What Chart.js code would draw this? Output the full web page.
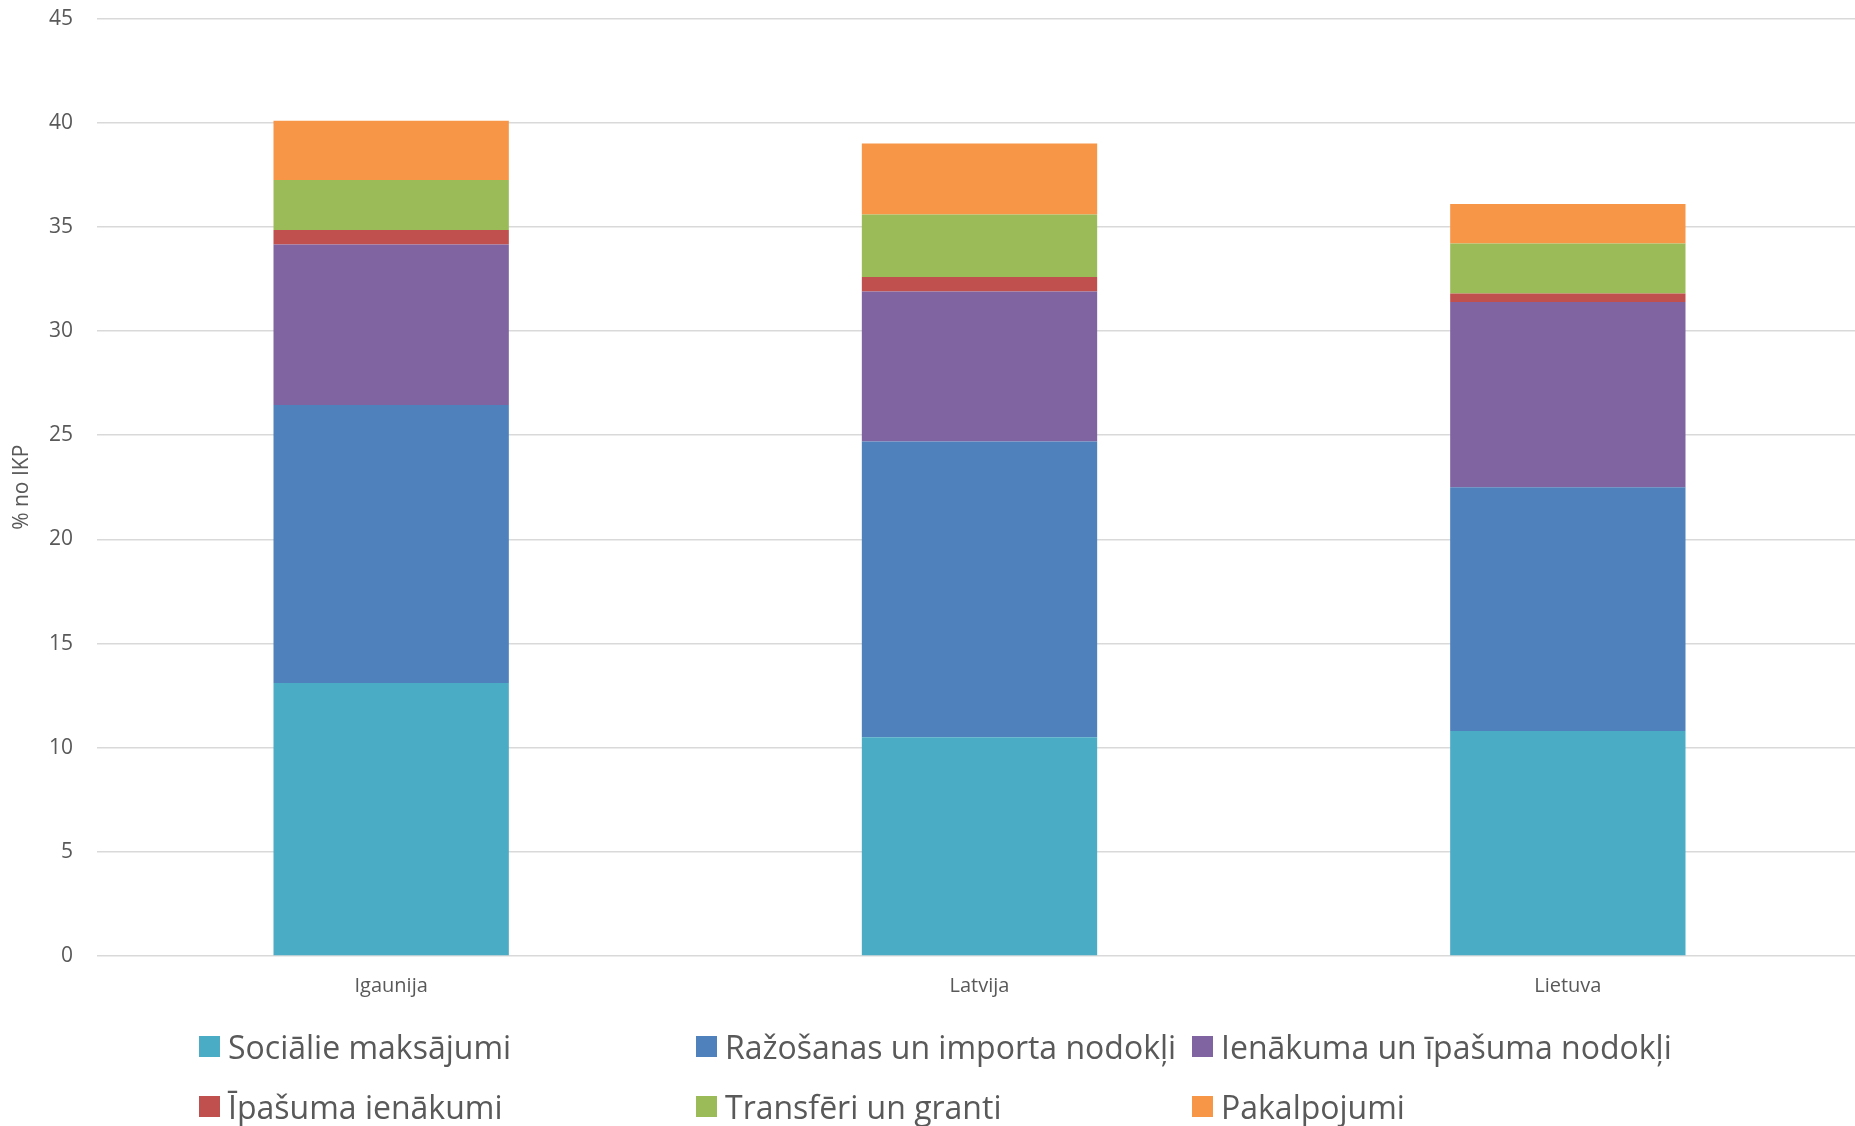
<!DOCTYPE html>
<html>
<head>
<meta charset="utf-8">
<script src="https://cdn.jsdelivr.net/npm/chart.js@4/dist/chart.umd.min.js"></script>
<style>
  html, body { margin: 0; padding: 0; background: #fff; overflow: hidden; }
  #wrap { position: relative; width: 1855px; height: 1126px; overflow: hidden; font-family: "Open Sans", sans-serif; }
  #box { position: absolute; left: 0; top: -18px; width: 1862px; height: 1026px; }
  #legend { position: absolute; left: 0; top: 0; width: 1855px; height: 1126px; pointer-events: none; }
  .item { position: absolute; display: flex; align-items: center; height: 44px; font-size: 32px; color: #595959; white-space: nowrap; }
  .item span.sw { display: inline-block; width: 21px; height: 21px; margin-right: 8px; }
</style>
</head>
<body>
<div id="wrap">
  <div id="box"><canvas id="chart"></canvas></div>
  <div id="legend"></div>
</div>
<script>
const countries = ["Igaunija", "Latvija", "Lietuva"];

const seriesNames = [
  "Sociālie maksājumi",
  "Ražošanas un importa nodokļi",
  "Ienākuma un īpašuma nodokļi",
  "Īpašuma ienākumi",
  "Transfēri un granti",
  "Pakalpojumi"
];

// % of GDP, one entry per country
const socialPayments = [13.1, 10.5, 10.8];
const productionTaxes = [13.35, 14.2, 11.7];
const incomeTaxes = [7.7, 7.2, 8.9];
const propertyIncome = [0.7, 0.7, 0.4];
const transfers = [2.4, 3.0, 2.4];
const services = [2.85, 3.4, 1.9];

const yTicks = [0, 5, 10, 15, 20, 25, 30, 35, 40, 45];

const colors = ["#4BACC6", "#4F81BD", "#8064A2", "#C0504D", "#9BBB59", "#F79646"];
const allSeries = [socialPayments, productionTaxes, incomeTaxes, propertyIncome, transfers, services];

const datasets = allSeries.map((values, i) => ({
  label: seriesNames[i],
  data: values,
  backgroundColor: colors[i],
  borderWidth: 0,
  categoryPercentage: 1.0,
  barPercentage: 0.4
}));

const ctx = document.getElementById("chart").getContext("2d");
new Chart(ctx, {
  type: "bar",
  data: { labels: countries, datasets },
  options: {
    responsive: true,
    maintainAspectRatio: false,
    animation: false,
    layout: { padding: { top: 8, right: 0, bottom: 0, left: 0 } },
    plugins: {
      legend: { display: false },
      tooltip: { enabled: false }
    },
    scales: {
      x: {
        stacked: true,
        grid: { display: false },
        border: { display: false },
        ticks: { color: "#595959", font: { family: "Open Sans", size: 20 }, padding: 10 }
      },
      y: {
        stacked: true,
        min: 0,
        max: 45,
        afterBuildTicks: (scale) => { scale.ticks = yTicks.map((v) => ({ value: v })); },
        afterFit: (scale) => { scale.width = 97; },
        grid: { color: "#d9d9d9", lineWidth: 1.5, drawTicks: false },
        border: { display: false },
        ticks: { color: "#595959", font: { family: "Open Sans", size: 21 }, padding: 24 },
        title: {
          display: true,
          text: "% no IKP",
          color: "#595959",
          font: { family: "Open Sans", size: 21 },
          padding: { top: 9, bottom: 0 }
        }
      }
    }
  }
});

// legend laid out in three columns like the original
const legend = document.getElementById("legend");
const colLeft = [199, 696, 1192];
const rowCenter = [1046, 1106];
seriesNames.forEach((name, i) => {
  const div = document.createElement("div");
  div.className = "item";
  div.style.left = colLeft[i % 3] + "px";
  div.style.top = (rowCenter[Math.floor(i / 3)] - 22) + "px";
  div.innerHTML = '<span class="sw" style="background:' + colors[i] + '"></span>' + name;
  legend.appendChild(div);
});
</script>
</body>
</html>
